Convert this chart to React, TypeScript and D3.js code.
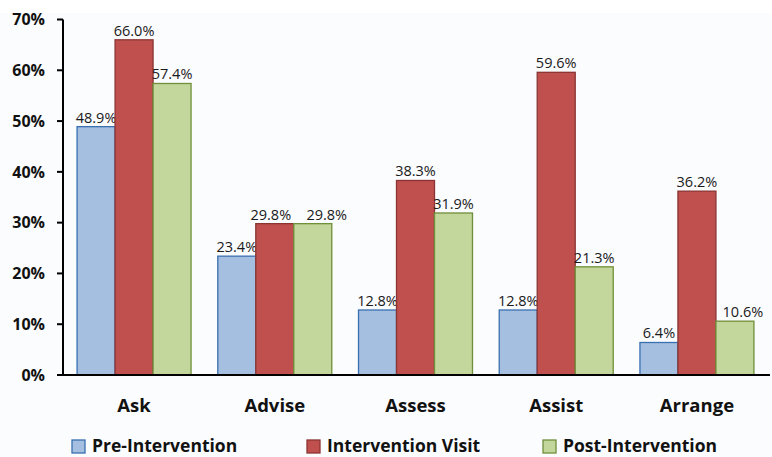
import React, { useEffect } from "react";
import * as d3 from "d3";

const categories = ["Ask", "Advise", "Assess", "Assist", "Arrange"];
const seriesNames = ["Pre-Intervention", "Intervention Visit", "Post-Intervention"];
const preIntervention = [48.9, 23.4, 12.8, 12.8, 6.4];
const interventionVisit = [66.0, 29.8, 38.3, 59.6, 36.2];
const postIntervention = [57.4, 29.8, 31.9, 21.3, 10.6];
const yTicks = [0, 10, 20, 30, 40, 50, 60, 70];

const fills = ["#a5bfe0", "#c0504d", "#c3d69b"];
const strokes = ["#3a6fb0", "#8a3533", "#6f8f3a"];

const W = 772;
const H = 457;
const margin = { left: 63, right: 4, top: 19.5, bottom: 82 };
const FONT = "'Open Sans', Lato, sans-serif";
// label nudges (layout only) to keep adjacent value labels apart
const labelNudge: Record<string, number> = { "Advise|1": -4, "Advise|2": 14, "Arrange|2": 8 };

export default function App() {
  useEffect(() => {
    document.body.style.margin = "0";
  }, []);

  const series = [preIntervention, interventionVisit, postIntervention];
  const x0 = d3
    .scaleBand<string>()
    .domain(categories)
    .range([margin.left, W - margin.right])
    .paddingInner(0.19)
    .paddingOuter(0.1);
  const x1 = d3
    .scaleBand<string>()
    .domain(seriesNames)
    .range([0, x0.bandwidth()]);
  const y = d3
    .scaleLinear()
    .domain([0, 70])
    .range([H - margin.bottom, margin.top]);
  const y0 = y(0);

  return (
    <svg width={W} height={H} style={{ display: "block" }} fontFamily={FONT}>
      <rect x={0} y={0} width={W} height={H} fill="#ffffff" />
      <rect x={0} y={13} width={W} height={H - 13} fill="#fbfcfe" />
      {categories.map((c, ci) => (
        <g key={c}>
          {series.map((vals, si) => {
            const bx = (x0(c) as number) + (x1(seriesNames[si]) as number);
            const bw = x1.bandwidth();
            const v = vals[ci];
            return (
              <g key={si}>
                <rect
                  x={bx}
                  y={y(v)}
                  width={bw}
                  height={y0 - y(v)}
                  fill={fills[si]}
                  stroke={strokes[si]}
                  strokeWidth={1.3}
                />
                <text
                  x={bx + bw / 2 + (labelNudge[`${c}|${si}`] || 0)}
                  y={y(v) - 4}
                  textAnchor="middle"
                  fontSize={14.5}
                  fill="#1a1a1a"
                >
                  {v.toFixed(1)}%
                </text>
              </g>
            );
          })}
          <text
            x={(x0(c) as number) + x0.bandwidth() / 2}
            y={412}
            textAnchor="middle"
            fontSize={18.5}
            fontWeight="bold"
            fill="#111"
          >
            {c}
          </text>
        </g>
      ))}
      {/* axes */}
      <line x1={margin.left} x2={margin.left} y1={y(70)} y2={y0 + 1} stroke="#000" strokeWidth={2} />
      <line x1={margin.left - 1} x2={W - margin.right + 2} y1={y0} y2={y0} stroke="#000" strokeWidth={2} />
      {yTicks.map((t) => (
        <g key={t}>
          <line x1={margin.left - 6} x2={margin.left} y1={y(t)} y2={y(t)} stroke="#000" strokeWidth={2} />
          <text
            x={45}
            y={y(t)}
            dy="0.36em"
            textAnchor="end"
            fontSize={16}
            fontWeight="bold"
            fill="#111"
          >
            {t}%
          </text>
        </g>
      ))}
      {/* legend */}
      {seriesNames.map((s, i) => {
        const lx = [72, 307, 543][i];
        return (
          <g key={s}>
            <rect x={lx} y={440} width={13} height={13} fill={fills[i]} stroke={strokes[i]} strokeWidth={1.3} />
            <text x={lx + 20} y={452} fontSize={17.5} fontWeight="bold" fill="#111">
              {s}
            </text>
          </g>
        );
      })}
    </svg>
  );
}
